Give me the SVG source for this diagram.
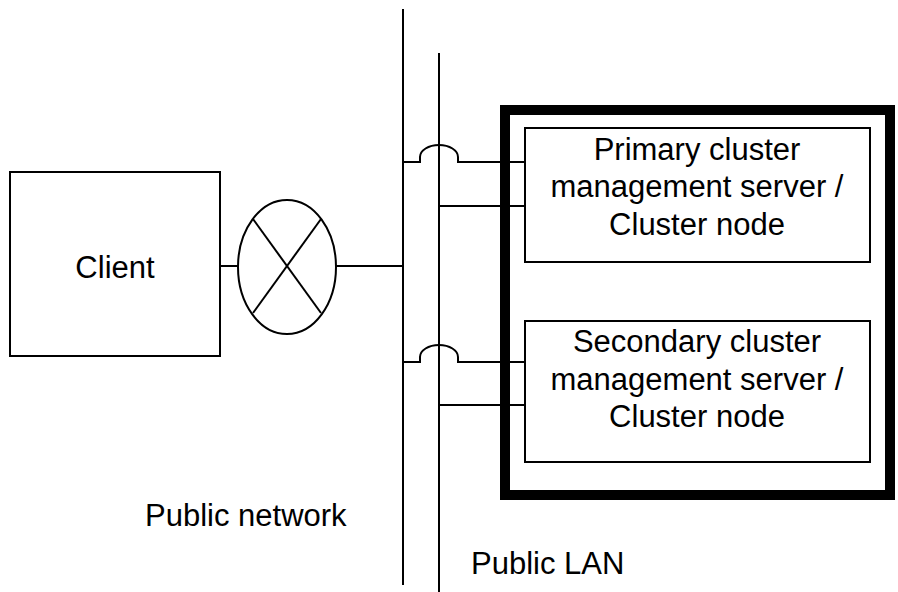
<svg xmlns="http://www.w3.org/2000/svg" width="898" height="592" viewBox="0 0 898 592">
<style>
.ln{fill:none;stroke:#000;stroke-width:2}
.box{fill:#fff;stroke:#000;stroke-width:2}
.t{font-family:"Liberation Sans",Arial,sans-serif;font-size:31px;fill:#000}
.c{text-anchor:middle}
</style>
<rect width="898" height="592" fill="#fff"/>
<g id="cluster">
<rect x="505" y="110" width="385" height="385" fill="none" stroke="#000" stroke-width="10"/>
</g>
<g id="connectors">
<line class="ln" x1="403" y1="9" x2="403" y2="585"/>
<line class="ln" x1="439" y1="53" x2="439" y2="592"/>
<path class="ln" d="M403,162 H420 V157 A19,12 0 0 1 458,157 V162 H525"/>
<path class="ln" d="M439,206 H525"/>
<path class="ln" d="M403,362 H420 V357 A19,12 0 0 1 458,357 V362 H525"/>
<path class="ln" d="M439,405 H525"/>
<path class="ln" d="M221,266 H238"/>
<path class="ln" d="M336,266 H403"/>
</g>
<g id="client">
<rect class="box" x="10" y="172" width="210" height="184"/>
<text class="t c" x="115" y="278">Client</text>
</g>
<g id="router">
<ellipse class="ln" cx="287" cy="267" rx="49" ry="67"/>
<line class="ln" x1="253" y1="219" x2="321" y2="313"/>
<line class="ln" x1="321" y1="219" x2="253" y2="313"/>
</g>
<g id="primary">
<rect class="box" x="525" y="128" width="345" height="134"/>
<text class="t c" x="697" y="159.5">Primary cluster</text>
<text class="t c" x="697" y="197">management server /</text>
<text class="t c" x="697" y="234.5">Cluster node</text>
</g>
<g id="secondary">
<rect class="box" x="525" y="321" width="345" height="141"/>
<text class="t c" x="697" y="352">Secondary cluster</text>
<text class="t c" x="697" y="389.5">management server /</text>
<text class="t c" x="697" y="427">Cluster node</text>
</g>
<g id="labels">
<text class="t" x="145" y="526">Public network</text>
<text class="t" x="471" y="574">Public LAN</text>
</g>
</svg>
